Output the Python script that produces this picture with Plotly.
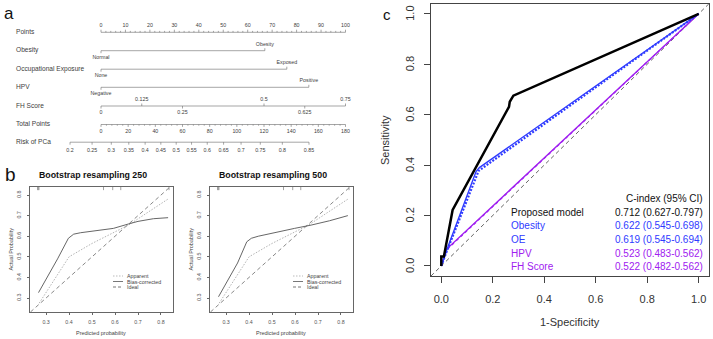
import numpy as np
import plotly.graph_objects as go

W, H = 713, 339

# ---------------- data: nomogram (panel a) ----------------
row_names = ["Points", "Obesity", "Occupational Exposure", "HPV", "FH Score", "Total Points", "Risk of PCa"]
points_ticks = list(range(0, 101, 10))
obesity_levels = ["Normal", "Obesity"]
obesity_points = [0, 67]
oe_levels = ["None", "Exposed"]
oe_points = [0, 76]
hpv_levels = ["Negative", "Positive"]
hpv_points = [0, 85]
fh_values = [0, 0.125, 0.25, 0.5, 0.625, 0.75]
fh_labels = ["0", "0.125", "0.25", "0.5", "0.625", "0.75"]
fh_points_per_unit = 100 / 0.75
total_ticks = list(range(0, 181, 20))
total_max = 180
risk_ticks = [0.2, 0.25, 0.3, 0.35, 0.4, 0.45, 0.5, 0.55, 0.6, 0.65, 0.7, 0.75, 0.8, 0.85]
risk_labels = ["0.2", "0.25", "0.3", "0.35", "0.4", "0.45", "0.5", "0.55", "0.6", "0.65", "0.7", "0.75", "0.8", "0.85"]
risk_intercept = -0.982
risk_slope = 0.01774

# ---------------- data: calibration (panel b) ----------------
rug_pred = [0.263, 0.266, 0.269, 0.55, 0.59, 0.625, 0.835]
apparent_x = [0.27, 0.40, 0.50, 0.60, 0.66, 0.83]
apparent_y = [0.275, 0.50, 0.565, 0.62, 0.655, 0.78]
bias250_x = [0.267, 0.30, 0.35, 0.397, 0.42, 0.45, 0.593, 0.66, 0.70, 0.767, 0.831]
bias250_y = [0.326, 0.39, 0.49, 0.59, 0.61, 0.617, 0.638, 0.66, 0.672, 0.685, 0.69]
bias500_x = [0.267, 0.30, 0.35, 0.39, 0.41, 0.44, 0.525, 0.598, 0.67, 0.75, 0.83]
bias500_y = [0.306, 0.37, 0.47, 0.573, 0.59, 0.60, 0.622, 0.638, 0.654, 0.675, 0.70]
cal_titles = ["Bootstrap resampling 250", "Bootstrap resampling 500"]
cal_ticks = [0.3, 0.4, 0.5, 0.6, 0.7, 0.8]

# ---------------- data: ROC (panel c) ----------------
roc_names = ["Proposed model", "Obesity", "OE", "HPV", "FH Score"]
roc_cindex = ["0.712 (0.627-0.797)", "0.622 (0.545-0.698)", "0.619 (0.545-0.694)",
              "0.523 (0.483-0.562)", "0.522 (0.482-0.562)"]
model_fpr = [0, 0, 0.01, 0.044, 0.263, 0.266, 0.28, 1]
model_tpr = [0, 0.037, 0.037, 0.222, 0.631, 0.651, 0.675, 1]
obesity_fpr = [0, 0.02, 0.135, 0.148, 1]
obesity_tpr = [0, 0.06, 0.374, 0.39, 1]
oe_fpr = [0, 0.02, 0.145, 1]
oe_tpr = [0, 0.055, 0.377, 1]
hpv_fpr = [0, 0.02, 1]
hpv_tpr = [0, 0.066, 1]
fh_fpr = [0, 0.021, 1]
fh_tpr = [0, 0.064, 1]
roc_ticks = [0, 0.2, 0.4, 0.6, 0.8, 1.0]

BLUE = "#2F3BFF"
PURPLE = "#A020F0"
SANS = "Liberation Sans, Arial, sans-serif"

def PX(x):
    return x / W

def PY(y):
    return 1 - y / H

fig = go.Figure()

def ann(text, x, y, size, color="#333", xref="paper", yref="paper", xanchor="center",
        yanchor="middle", angle=0, px_x=True, px_y=True):
    fig.add_annotation(x=PX(x) if px_x else x, y=PY(y) if px_y else y, xref=xref, yref=yref,
                       text=text, showarrow=False, xanchor=xanchor, yanchor=yanchor,
                       textangle=angle, borderpad=0,
                       font=dict(family=SANS, size=size, color=color))

# ================= Panel a: nomogram =================
NX = dict(xaxis="x", yaxis="y")
px_per_pt = 2.445
x0_px = 101
row_y = [32.3, 50.7, 69.2, 87.3, 106.0, 124.5, 142.2]
ncol = "#6a6a6a"
tcol = "#404040"
tick_fs = 5.3

seg_x, seg_y = [], []
def seg(xa, ya, xb, yb):
    seg_x.extend([xa, xb, None]); seg_y.extend([ya, yb, None])

txt_x, txt_y, txt_t = [], [], []
def lab(x, y, t):
    txt_x.append(x); txt_y.append(y); txt_t.append(t)

# Points axis
y0 = row_y[0]
seg(0, y0, 100, y0)
for p in range(0, 101, 2):
    seg(p, y0, p, y0 - (2.6 if p % 10 == 0 else 1.4))
for p in points_ticks:
    lab(p, y0 - 7, str(p))

# categorical rows
for yy, levels, pts in [(row_y[1], obesity_levels, obesity_points),
                        (row_y[2], oe_levels, oe_points),
                        (row_y[3], hpv_levels, hpv_points)]:
    seg(pts[0], yy, pts[1], yy)
    seg(pts[0], yy, pts[0], yy + 2.5)
    seg(pts[1], yy, pts[1], yy - 2.5)
    lab(pts[0], yy + 6.5, levels[0])
    lab(pts[1], yy - 6.5, levels[1])

# FH score
yy = row_y[4]
fh_pts = [v * fh_points_per_unit for v in fh_values]
seg(fh_pts[0], yy, fh_pts[-1], yy)
for i, (p, t) in enumerate(zip(fh_pts, fh_labels)):
    if i % 2 == 0:
        seg(p, yy, p, yy + 2.5); lab(p, yy + 7, t)
    else:
        seg(p, yy, p, yy - 2.5); lab(p, yy - 6.5, t)

# Total points
yy = row_y[5]
k = 100 / total_max
seg(0, yy, total_max * k, yy)
for tp in range(0, total_max + 1, 4):
    seg(tp * k, yy, tp * k, yy + (2.4 if tp % 20 == 0 else 1.2))
for tp in total_ticks:
    lab(tp * k, yy + 7, str(tp))

# Risk
yy = row_y[6]
risk_pts = [((np.log(r / (1 - r)) - risk_intercept) / risk_slope) * k for r in risk_ticks]
seg(risk_pts[0], yy, risk_pts[-1], yy)
for p, t in zip(risk_pts, risk_labels):
    seg(p, yy, p, yy + 2.5)
    lab(p, yy + 8, t)

fig.add_trace(go.Scatter(x=seg_x, y=seg_y, mode="lines", line=dict(color=ncol, width=0.6),
                         hoverinfo="skip", showlegend=False, **NX))
fig.add_trace(go.Scatter(x=txt_x, y=txt_y, mode="text", text=txt_t, textposition="middle center",
                         textfont=dict(family=SANS, size=tick_fs, color=tcol),
                         hoverinfo="skip", showlegend=False, **NX))
name_x = (16 - x0_px) / px_per_pt
fig.add_trace(go.Scatter(x=[name_x] * len(row_names), y=row_y, mode="text", text=row_names,
                         textposition="middle right",
                         textfont=dict(family=SANS, size=6.6, color=tcol),
                         hoverinfo="skip", showlegend=False, **NX))

fig.update_layout(
    xaxis=dict(domain=[0, 360 / W], range=[(0 - x0_px) / px_per_pt, (360 - x0_px) / px_per_pt],
               visible=False, fixedrange=True),
    yaxis=dict(domain=[PY(160), 1], range=[160, 0], visible=False, fixedrange=True),
)

# ================= Panel b: calibration =================
cal_axes = [("x2", "y2", 30, 172.7), ("x3", "y3", 210, 352.7)]
cal_top, cal_bot = 187, 312
xr = [0.230, 0.851]
yr = [0.232, 0.839]
for idx, ((xa, ya, left, right), bias_x, bias_y) in enumerate(
        zip(cal_axes, [bias250_x, bias500_x], [bias250_y, bias500_y])):
    kw = dict(xaxis=xa, yaxis=ya, hoverinfo="skip", showlegend=False)
    lo, hi = max(xr[0], yr[0]), min(xr[1], yr[1])
    fig.add_trace(go.Scatter(x=[lo, hi], y=[lo, hi], mode="lines",
                             line=dict(color="#555", width=0.7, dash="4px,3px"), **kw))
    fig.add_trace(go.Scatter(x=apparent_x, y=apparent_y, mode="lines",
                             line=dict(color="#aaaaaa", width=0.9, dash="1.5px,1.5px"), **kw))
    fig.add_trace(go.Scatter(x=bias_x, y=bias_y, mode="lines",
                             line=dict(color="#555555", width=0.9), **kw))
    for r in rug_pred:
        fig.add_shape(type="line", xref=xa, yref=ya + " domain", x0=r, x1=r, y0=1, y1=0.975,
                      line=dict(color="#888", width=0.8))
    axis_common = dict(showgrid=False, zeroline=False, showline=True, mirror=True,
                       linecolor="#666", linewidth=0.8, ticks="outside", ticklen=2.5,
                       tickwidth=0.6, tickcolor="#666", tickvals=cal_ticks,
                       ticktext=[f"{t:.1f}" for t in cal_ticks],
                       tickfont=dict(family=SANS, size=5.3, color="#555"), fixedrange=True)
    n = idx + 2
    fig.layout[f"xaxis{n}"] = dict(domain=[PX(left), PX(right)], range=xr, anchor=ya,
                                   ticklabelstandoff=2, **axis_common)
    fig.layout[f"yaxis{n}"] = dict(domain=[PY(cal_bot), PY(cal_top)], range=yr, anchor=xa,
                                   showticklabels=False, **axis_common)
    for t in cal_ticks:
        ann(f"{t:.1f}", left - 11, t, 5.3, "#555", yref=ya, angle=-90, px_y=False)
    cx = (left + right) / 2
    ann("<b>" + cal_titles[idx] + "</b>", cx - 8.5, 175, 8.8, "#111")
    ann("Predicted probability", cx, 333, 5.5, "#444")
    ann("Actual Probability", left - 20, (cal_top + cal_bot) / 2, 5.5, "#444", angle=-90)
    # legend
    lx0, lx1 = left + 83, left + 93
    for j, (name, col, dash) in enumerate([("Apparent", "#aaaaaa", "1.5px,1.5px"),
                                            ("Bias-corrected", "#555555", "solid"),
                                            ("Ideal", "#555555", "3px,2px")]):
        yy = 276 + j * 5.5
        fig.add_shape(type="line", xref="paper", yref="paper", x0=PX(lx0), x1=PX(lx1),
                      y0=PY(yy), y1=PY(yy), line=dict(color=col, width=0.8, dash=dash))
        ann(name, lx1 + 3, yy, 5.3, "#444", xanchor="left")

# ================= Panel c: ROC =================
kw = dict(xaxis="x4", yaxis="y4", hoverinfo="skip", showlegend=False)
fig.add_trace(go.Scatter(x=[-0.04, 1.04], y=[-0.04, 1.04], mode="lines",
                         line=dict(color="#555", width=0.9, dash="4px,3px"), **kw))
fig.add_trace(go.Scatter(x=hpv_fpr, y=hpv_tpr, mode="lines", line=dict(color=PURPLE, width=1.4), **kw))
fig.add_trace(go.Scatter(x=fh_fpr, y=fh_tpr, mode="lines", line=dict(color=PURPLE, width=1.2, dash="dot"), **kw))
fig.add_trace(go.Scatter(x=oe_fpr, y=oe_tpr, mode="lines", line=dict(color=BLUE, width=2.2, dash="2px,1.5px"), **kw))
fig.add_trace(go.Scatter(x=obesity_fpr, y=obesity_tpr, mode="lines", line=dict(color=BLUE, width=1.4), **kw))
fig.add_trace(go.Scatter(x=model_fpr, y=model_tpr, mode="lines", line=dict(color="#000", width=2.5), **kw))

roc_axis = dict(showgrid=False, zeroline=False, showline=True, mirror=True, linecolor="#444",
                linewidth=1, ticks="outside", ticklen=6, tickwidth=0.9, tickcolor="#444",
                tickvals=roc_ticks, ticktext=[f"{t:.1f}" for t in roc_ticks], range=[-0.04, 1.04],
                tickfont=dict(family=SANS, size=11, color="#333"), fixedrange=True)
fig.layout["xaxis4"] = dict(domain=[PX(431), PX(709)], anchor="y4", ticklabelstandoff=7, **roc_axis)
fig.layout["yaxis4"] = dict(domain=[PY(276), PY(3.7)], anchor="x4", showticklabels=False, **roc_axis)
for t in roc_ticks:
    ann(f"{t:.1f}", 410, t, 11, "#333", yref="y4", angle=-90, px_y=False)
ann("1-Specificity", 570, 322, 11, "#333")
ann("Sensitivity", 385, 140, 11, "#333", angle=-90)

LEG = 10
ann("C-index (95% CI)", 704, 199, LEG, "#111", xanchor="right")
roc_colors = ["#111", BLUE, BLUE, PURPLE, PURPLE]
for i, (nm, ci, col) in enumerate(zip(roc_names, roc_cindex, roc_colors)):
    yy = 212.3 + i * 13.6
    ann(nm, 510, yy, LEG, col, xanchor="left")
    ann(ci, 704, yy, LEG, col, xanchor="right")

# panel letters
ann("a", 8.5, 13.5, 17, "#111")
ann("b", 10, 175, 19, "#111")
ann("c", 387, 15, 15, "#111")

fig.update_layout(width=W, height=H, margin=dict(l=0, r=0, t=0, b=0),
                  paper_bgcolor="white", plot_bgcolor="white", showlegend=False)
fig.write_html("out.html", config={"displayModeBar": False},
               post_script="document.body.style.margin='0px';")
